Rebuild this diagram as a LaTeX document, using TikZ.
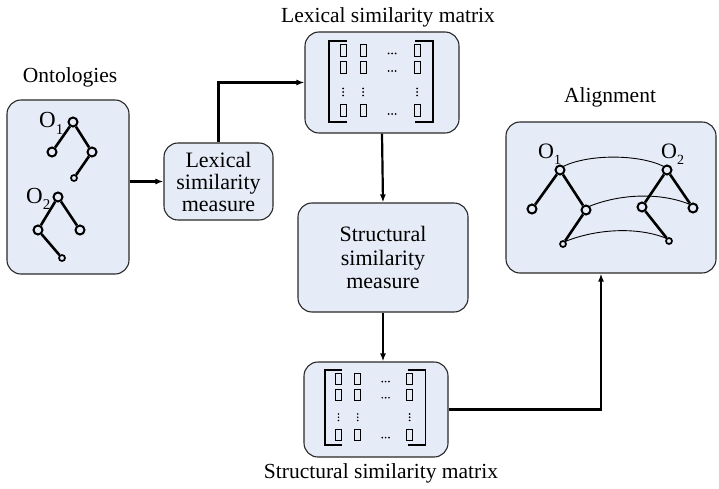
\documentclass[tikz,border=0pt]{standalone}
\usepackage{fontspec}
\setmainfont{Liberation Serif}
\usetikzlibrary{arrows.meta}

\definecolor{boxfill}{RGB}{230,236,247}
\definecolor{boxline}{RGB}{40,40,40}

% letter O with a lowered index
\newcommand\Osub[2]{O\raisebox{-0.28em}{\fontsize{#2}{#2}\selectfont #1}}

\tikzset{
  panel/.style={draw=boxline, line width=1.1pt, fill=boxfill, rounded corners=14pt, inner sep=0pt},
  conn/.style={line width=2.2pt, -{Latex[length=8pt,width=6pt]}},
  tnode/.style={circle, draw, line width=2pt, inner sep=0pt, minimum size=9pt},
  tleaf/.style={tnode, minimum size=6pt, line width=1.7pt},
  tedge/.style={line width=2.6pt},
  link/.style={line width=0.9pt},
  head/.style={anchor=base, inner sep=0pt, font=\fontsize{21.5}{24}\selectfont},
  boxtext/.style={font=\fontsize{22}{22}\selectfont, align=center},
  olabel/.style={anchor=base west, inner sep=0pt},
  % bracketed matrix of placeholder entries
  simmat/.pic={
    \draw[line width=1.1pt] (18,0) -- (0,0) -- (0,81) -- (18,81);
    \draw[line width=1.1pt] (86,0) -- (104,0) -- (104,81) -- (86,81);
    \foreach \c in {14,34,88}
      \foreach \r in {9.5,27,70}
        \draw[line width=1pt] (\c-3,\r-6) rectangle (\c+3,\r+6);
    \foreach \r in {9.5,27,70}
      \foreach \d in {-3.5,0,3.5}
        \fill (63+\d,\r+3) circle (1);
    \foreach \c in {14,34,88}
      \foreach \d in {-3.5,0,3.5}
        \fill (\c,51+\d) circle (1);
  }
}

\begin{document}
\begin{tikzpicture}[x=1pt,y=-1pt]
\useasboundingbox (0,0) rectangle (719,489);

% panels
\node[panel, minimum width=122pt, minimum height=174pt] (onto) at (68,187) {};
\node[panel, boxtext, minimum width=109pt, minimum height=77pt] (lexm) at (218.5,181.5) {Lexical\\similarity\\measure};
\node[panel, minimum width=154pt, minimum height=101pt] (lexmat) at (382,82.5) {};
\node[panel, boxtext, minimum width=170pt, minimum height=109pt, font=\fontsize{22}{23.5}\selectfont] (strm) at (383,257.5) {Structural\\similarity\\measure};
\node[panel, minimum width=144pt, minimum height=95pt] (strmat) at (376,409.5) {};
\node[panel, minimum width=210pt, minimum height=151pt] (align) at (611,197.5) {};

% headings
\node[head] (honto) at (70,83) {Ontologies};
\node[head] (hlex) at (388,23) {Lexical similarity matrix};
\node[head] (halign) at (610,103) {Alignment};
\node[head] (hstr) at (381,478) {Structural similarity matrix};

% matrices
\pic at (329,41) {simmat};
\pic[xscale=0.962, yscale=0.926] at (325,370) {simmat};

% input ontologies
\node[olabel, font=\fontsize{23}{23}\selectfont] (lo1) at (39,128) {\Osub{1}{15}};
\node[tnode] (p1r) at (73,122) {};
\node[tnode] (p1a) at (52,152) {};
\node[tnode] (p1b) at (92,152) {};
\node[tleaf] (p1c) at (74,178) {};
\draw[tedge] (p1r) -- (p1a) (p1r) -- (p1b) (p1b) -- (p1c);

\node[olabel, font=\fontsize{23}{23}\selectfont] (lo2) at (26,203) {\Osub{2}{15}};
\node[tnode] (p2r) at (58,197) {};
\node[tnode] (p2a) at (38,230) {};
\node[tnode] (p2b) at (80,230) {};
\node[tleaf] (p2c) at (62,258) {};
\draw[tedge] (p2r) -- (p2a) (p2r) -- (p2b) (p2a) -- (p2c);

% aligned ontologies
\node[olabel, font=\fontsize{22}{22}\selectfont] (la1) at (538,158) {\Osub{1}{14}};
\node[tnode] (a1r) at (560,170) {};
\node[tnode] (a1a) at (532,209) {};
\node[tnode] (a1b) at (586,210) {};
\node[tleaf] (a1c) at (563,244) {};
\draw[tedge] (a1r) -- (a1a) (a1r) -- (a1b) (a1b) -- (a1c);

\node[olabel, font=\fontsize{22}{22}\selectfont] (la2) at (661,158) {\Osub{2}{14}};
\node[tnode] (a2r) at (667,170) {};
\node[tnode] (a2a) at (642,207) {};
\node[tnode] (a2b) at (693,208) {};
\node[tleaf] (a2c) at (669,241) {};
\draw[tedge] (a2r) -- (a2a) (a2r) -- (a2b) (a2a) -- (a2c);

% correspondences
\draw[link] (a1r.north east) .. controls +(25,-12) and +(-25,-12) .. (a2r.north west);
\draw[link] (a1b.north east) .. controls +(30,-12) and +(-30,-12) .. (a2b.north west);
\draw[link] (a1c.north east) .. controls +(30,-12) and +(-30,-12) .. (a2c.north west);

% flow
\draw[conn] (onto.east |- lexm) -- (lexm.west);
\draw[conn] (lexm.north) |- (lexmat.west);
\draw[conn] (lexmat.south) -- (strm.north);
\draw[conn] (strm.south) -- (strm.south |- strmat.north);
\coordinate (alin) at ([xshift=-10pt]align.south);
\draw[conn] (strmat.east) -| (alin);
\end{tikzpicture}
\end{document}
